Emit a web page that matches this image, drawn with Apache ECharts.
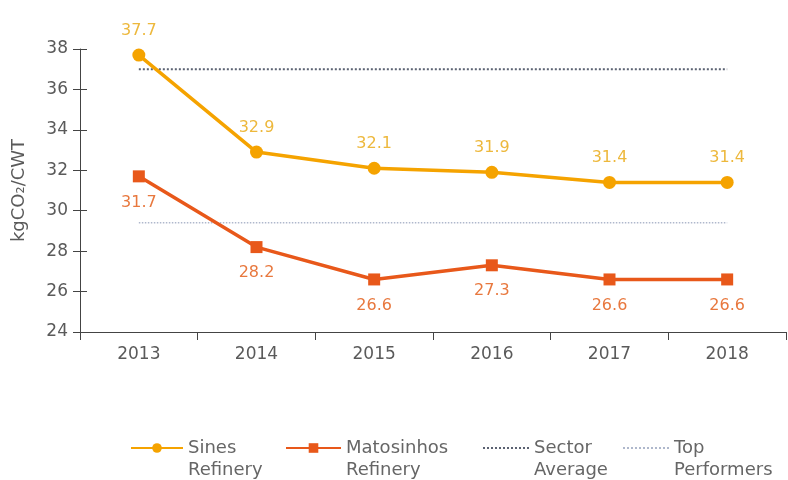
<!DOCTYPE html>
<html>
<head>
<meta charset="utf-8">
<script src="https://cdn.jsdelivr.net/npm/echarts@6/dist/echarts.min.js"></script>
<style>html,body{margin:0;padding:0;background:#fff}#c{width:788px;height:480px}</style>
</head>
<body>
<div id="c"></div>
<script>
var years = ['2013','2014','2015','2016','2017','2018'];
var sines = [37.7, 32.9, 32.1, 31.9, 31.4, 31.4];
var matosinhos = [31.7, 28.2, 26.6, 27.3, 26.6, 26.6];
var sectorAverage = [37.0, 37.0, 37.0, 37.0, 37.0, 37.0];
var topPerformers = [29.4, 29.4, 29.4, 29.4, 29.4, 29.4];
var yTicks = [24, 26, 28, 30, 32, 34, 36, 38];
var seriesNames = ['Sines\nRefinery', 'Matosinhos\nRefinery', 'Sector\nAverage', 'Top\nPerformers'];

var font = 'DejaVu Sans';
var legendLefts = [130, 285, 482, 622];
var legendWidths = [52, 55, 46, 46];
var legends = seriesNames.map(function(n, i){
  var l = {
    data: [n], left: legendLefts[i], top: 415, padding: 0,
    itemWidth: legendWidths[i], itemHeight: 12, itemGap: 4,
    formatter: function(name){ return '\n' + name; },
    textStyle: {fontSize: 18, color: '#666', fontFamily: font, lineHeight: 22}
  };
  if (i >= 2) { l.itemStyle = {opacity: 0}; }
  return l;
});

var chart = echarts.init(document.getElementById('c'));
chart.setOption({
  animation: false,
  textStyle: {fontFamily: font},
  grid: {left: 80, right: 2, top: 49, bottom: 148},
  legend: legends,
  xAxis: {
    type: 'category', data: years, boundaryGap: true,
    axisLine: {lineStyle: {color: '#444', width: 1}},
    axisTick: {show: true, length: 8, lineStyle: {color: '#444'}},
    axisLabel: {fontSize: 17, color: '#5a5a5a', margin: 14}
  },
  yAxis: [{
    type: 'value', min: yTicks[0], max: yTicks[yTicks.length-1], interval: 2,
    name: 'kgCO\u2082/CWT', nameLocation: 'middle', nameGap: 52,
    nameTextStyle: {fontSize: 18, color: '#5a5a5a'},
    axisLine: {show: true, lineStyle: {color: '#444', width: 1}},
    axisTick: {show: true, length: 7, lineStyle: {color: '#444'}},
    axisLabel: {fontSize: 17, color: '#5a5a5a', margin: 12},
    splitLine: {show: false}
  }, {
    type: 'value', position: 'left', offset: 0, min: yTicks[0], max: yTicks[yTicks.length-1], interval: 2,
    axisLine: {show: false},
    axisTick: {show: true, inside: true, length: 7, lineStyle: {color: '#444'}},
    axisLabel: {show: false},
    splitLine: {show: false}
  }],
  series: [
    {
      name: seriesNames[0], type: 'line', data: sines,
      symbol: 'circle', symbolSize: 13,
      color: '#F5A300',
      lineStyle: {width: 3.5, color: '#F5A300'},
      itemStyle: {color: '#F5A300'},
      label: {show: true, position: 'top', distance: 10, fontSize: 16, color: '#EDB83C', formatter: function(p){return p.value.toFixed(1);}},
      z: 5
    },
    {
      name: seriesNames[1], type: 'line', data: matosinhos,
      symbol: 'rect', symbolSize: 12,
      color: '#E8581A',
      lineStyle: {width: 3.5, color: '#E8581A'},
      itemStyle: {color: '#E8581A'},
      label: {show: true, position: 'bottom', distance: 12, fontSize: 16, color: '#E8783E', formatter: function(p){return p.value.toFixed(1);}},
      z: 5
    },
    {
      name: seriesNames[2], type: 'line', data: sectorAverage,
      symbol: 'none', color: '#5B6272',
      lineStyle: {width: 2, type: 'dotted', color: '#5B6272'},
      z: 2
    },
    {
      name: seriesNames[3], type: 'line', data: topPerformers,
      symbol: 'none', color: '#AFB8CC',
      lineStyle: {width: 1.5, type: 'dotted', color: '#AFB8CC'},
      z: 2
    }
  ]
});
</script>
</body>
</html>
